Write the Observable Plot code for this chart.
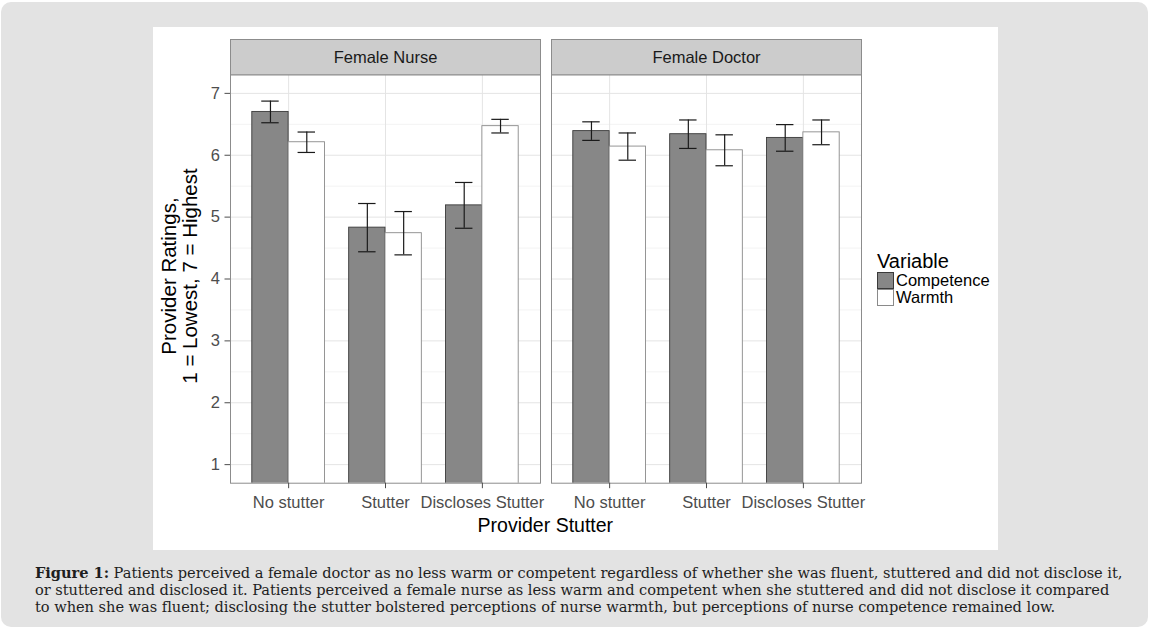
<!DOCTYPE html>
<html>
<head>
<meta charset="utf-8">
<script src="https://cdn.jsdelivr.net/npm/d3@7"></script>
<script src="https://cdn.jsdelivr.net/npm/@observablehq/plot@0.6"></script>
<style>
  html, body { margin: 0; padding: 0; background: #fff; }
  body { width: 1153px; height: 633px; position: relative; overflow: hidden; font-family: "Liberation Sans", Arial, sans-serif; }
  #box { position: absolute; left: 1px; top: 2px; width: 1147px; height: 625px; background: #e3e3e3; border-radius: 10px; }
  #chart { position: absolute; left: 153px; top: 27px; width: 845px; height: 523px; background: #fff; }
  #chart svg { display: block; }
  .ytitle { position: absolute; width: 320px; height: 42px; line-height: 21px; font-size: 20.5px; color: #000; text-align: center; white-space: nowrap; transform: rotate(-90deg); }
  .xtitle { position: absolute; font-size: 19.5px; color: #000; white-space: nowrap; transform: translateX(-50%); }
  #legend { position: absolute; left: 877px; top: 250px; color: #000; }
  #legend .title { font-size: 20px; line-height: 22px; }
  #legend .row { display: flex; align-items: center; height: 17px; }
  #legend .key { width: 15px; height: 15px; margin-right: 2px; box-sizing: content-box; }
  #legend .lab { font-size: 16.5px; line-height: 17px; }
  #caption { position: absolute; left: 35px; top: 563.5px; font-family: "DejaVu Serif", "Liberation Serif", serif; font-size: 14.6px; line-height: 17px; color: #1e1e1e; white-space: nowrap; }
  #caption div { white-space: nowrap; height: 17px; }
</style>
</head>
<body>
<div id="box"></div>
<div id="chart"></div>
<div class="ytitle" id="ytitle"><div>Provider Ratings,</div><div>1 = Lowest, 7 = Highest</div></div>
<div class="xtitle" id="xtitle">Provider Stutter</div>
<div id="legend"></div>
<div id="caption">
  <div id="cap1"><b>Figure 1:</b> Patients perceived a female doctor as no less warm or competent regardless of whether she was fluent, stuttered and did not disclose it,</div>
  <div>or stuttered and disclosed it. Patients perceived a female nurse as less warm and competent when she stuttered and did not disclose it compared</div>
  <div>to when she was fluent; disclosing the stutter bolstered perceptions of nurse warmth, but perceptions of nurse competence remained low.</div>
</div>
<script>
// ---- data ----
const panels = ["Female Nurse", "Female Doctor"];
const stutter = ["No stutter", "Stutter", "Discloses Stutter"];
const variables = ["Competence", "Warmth"];
const yTicks = [1, 2, 3, 4, 5, 6, 7];
const yMinor = [1.5, 2.5, 3.5, 4.5, 5.5, 6.5];

const nurseCompetence   = [6.70, 4.83, 5.19];
const nurseCompetenceSE = [0.175, 0.39, 0.37];
const nurseWarmth       = [6.21, 4.74, 6.47];
const nurseWarmthSE     = [0.165, 0.35, 0.11];
const doctorCompetence   = [6.39, 6.34, 6.28];
const doctorCompetenceSE = [0.15, 0.23, 0.215];
const doctorWarmth       = [6.14, 6.08, 6.37];
const doctorWarmthSE     = [0.22, 0.25, 0.20];

const fills = {Competence: "#878787", Warmth: "#ffffff"};
const strokes = {Competence: "#3a3a3a", Warmth: "#8a8a8a"};

// ---- build table ----
const series = {
  "Female Nurse":  {Competence: [nurseCompetence, nurseCompetenceSE], Warmth: [nurseWarmth, nurseWarmthSE]},
  "Female Doctor": {Competence: [doctorCompetence, doctorCompetenceSE], Warmth: [doctorWarmth, doctorWarmthSE]}
};
const barWidth = 0.375; // dodge width per bar (0.75 per group)
const capHalf = 0.09;
const rows = [];
for (const panel of panels) {
  variables.forEach((v, vi) => {
    const [vals, se] = series[panel][v];
    stutter.forEach((s, i) => {
      const pos = i + 1;
      const x1 = vi === 0 ? pos - barWidth : pos;
      const x2 = x1 + barWidth;
      rows.push({panel, stutter: s, variable: v, pos, x1, x2, xc: (x1 + x2) / 2,
                 value: vals[i], lo: vals[i] - se[i], hi: vals[i] + se[i]});
    });
  });
}

const W = 845, H = 523;
const mTop = 47.3, mBottom = 67.3, mLeft = 76, mRight = 136.3;
const frameH = H - mTop - mBottom;
const stripH = 35.3;

const chart = Plot.plot({
  width: W, height: H,
  marginTop: mTop, marginBottom: mBottom, marginLeft: mLeft, marginRight: mRight,
  style: {fontFamily: "'Liberation Sans', Arial, sans-serif", background: "transparent", overflow: "visible"},
  fx: {domain: panels, paddingInner: 0.0333, paddingOuter: 0, axis: null, label: null},
  x: {domain: [0.4, 3.6], label: null},
  y: {domain: [0.7, 7.3], label: null},
  marks: [
    Plot.ruleY(yMinor, {stroke: "#f3f3f3", strokeWidth: 1}),
    Plot.ruleY(yTicks, {stroke: "#e4e4e4", strokeWidth: 1}),
    Plot.ruleX(stutter.map((s, i) => i + 1), {stroke: "#e4e4e4", strokeWidth: 1}),
    Plot.rect(rows, {fx: "panel", x1: "x1", x2: "x2", y1: 0, y2: "value",
      fill: d => fills[d.variable], stroke: d => strokes[d.variable], strokeWidth: 0.9, clip: true}),
    Plot.ruleX(rows, {fx: "panel", x: "xc", y1: "lo", y2: "hi", stroke: "#1a1a1a", strokeWidth: 1.2}),
    Plot.ruleY(rows, {fx: "panel", y: "hi", x1: d => d.xc - capHalf, x2: d => d.xc + capHalf, stroke: "#1a1a1a", strokeWidth: 1.2}),
    Plot.ruleY(rows, {fx: "panel", y: "lo", x1: d => d.xc - capHalf, x2: d => d.xc + capHalf, stroke: "#1a1a1a", strokeWidth: 1.2}),
    Plot.frame({stroke: "#8c8c8c", strokeWidth: 1}),
    Plot.frame({fill: "#cccccc", stroke: "#8c8c8c", strokeWidth: 1, insetTop: -stripH, insetBottom: frameH}),
    Plot.text(panels, {fx: d => d, text: d => d, frameAnchor: "top", lineAnchor: "middle", dy: -stripH / 2 + 0.5, fontSize: 16.5, fill: "#1a1a1a"}),
    Plot.axisY({ticks: yTicks, tickFormat: d => String(d), tickSize: 5.5, tickPadding: 5, fontSize: 16.5, color: "#4d4d4d", label: null}),
    Plot.axisX({ticks: stutter.map((s, i) => i + 1), tickFormat: i => stutter[i - 1], tickSize: 5.5, tickPadding: 8, fontSize: 16.5, color: "#4d4d4d", label: null})
  ]
});
document.getElementById("chart").appendChild(chart);

// axis titles (positioned relative to page)
const yt = document.getElementById("ytitle");
const ycx = 178.6, ycy = 27 + mTop + frameH / 2 - 3;
yt.style.left = (ycx - 160) + "px";
yt.style.top = (ycy - 21) + "px";
const xt = document.getElementById("xtitle");
xt.style.left = (153 + (mLeft + (W - mRight)) / 2) + "px";
xt.style.top = "514px";

// legend
const lg = document.getElementById("legend");
const t = document.createElement("div"); t.className = "title"; t.textContent = "Variable"; lg.appendChild(t);
for (const v of variables) {
  const r = document.createElement("div"); r.className = "row";
  const k = document.createElement("div"); k.className = "key";
  k.style.background = fills[v]; k.style.border = "1px solid " + strokes[v];
  const l = document.createElement("div"); l.className = "lab"; l.textContent = v;
  r.appendChild(k); r.appendChild(l); lg.appendChild(r);
}

// fit caption line length to the reference by letter spacing
const cap1 = document.getElementById("cap1");
const span = document.createElement("span");
span.innerHTML = cap1.innerHTML; span.style.whiteSpace = "nowrap";
cap1.innerHTML = ""; cap1.appendChild(span);
const w = span.getBoundingClientRect().width;
const nChars = span.textContent.length;
const target = 1087;
document.getElementById("caption").style.letterSpacing = ((target - w) / nChars).toFixed(3) + "px";
</script>
</body>
</html>
